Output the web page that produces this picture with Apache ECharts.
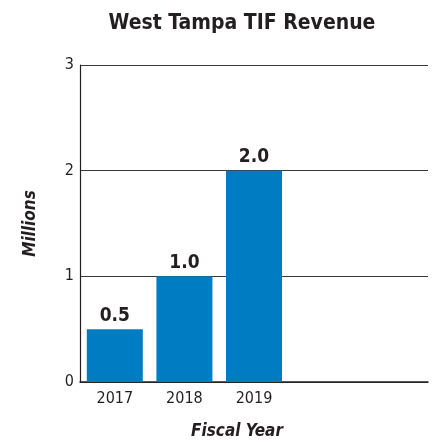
<!DOCTYPE html>
<html>
<head>
<meta charset="utf-8">
<script src="https://cdn.jsdelivr.net/npm/echarts@6/dist/echarts.min.js"></script>
<style>
  html, body { margin: 0; padding: 0; background: #fff; }
  #chart { width: 435px; height: 442px; }
</style>
</head>
<body>
<div id="chart"></div>
<script>
// Fiscal years shown on the axis; trailing slots are left empty
const categories = ['2017', '2018', '2019', '', ''];
// TIF revenue in millions of dollars
const revenue = [0.5, 1.0, 2.0, null, null];
const yTicks = [0, 1, 2, 3];

const FONT = '"DejaVu Sans Condensed", "Liberation Sans Narrow", "Arial Narrow", sans-serif';
const INK = '#231f20';

const chart = echarts.init(document.getElementById('chart'), null, { renderer: 'canvas' });

chart.setOption({
  animation: false,
  backgroundColor: '#ffffff',
  title: {
    text: 'West Tampa TIF Revenue',
    left: 237,
    top: 8,
    textAlign: 'center',
    textStyle: { fontFamily: FONT, fontWeight: 'bold', fontSize: 21, color: INK }
  },
  graphic: [{
    type: 'text',
    style: {
      text: 'Fiscal Year',
      x: 237, y: 432,
      align: 'center', verticalAlign: 'middle',
      font: 'italic bold 17px ' + FONT,
      fill: INK
    }
  }],
  grid: { left: 80, right: 7, top: 65, bottom: 60, containLabel: false },
  xAxis: {
    type: 'category',
    data: categories,
    axisLine: { show: true, lineStyle: { color: INK, width: 1.5 } },
    axisTick: { show: false },
    axisLabel: { color: INK, fontFamily: FONT, fontSize: 16, margin: 9 },
    splitLine: { show: false }
  },
  yAxis: {
    type: 'value',
    min: yTicks[0],
    max: yTicks[yTicks.length - 1],
    interval: 1,
    name: 'Millions',
    nameLocation: 'middle',
    nameRotate: 90,
    nameGap: 41,
    nameTextStyle: { fontFamily: FONT, fontWeight: 'bold', fontStyle: 'italic', fontSize: 17, color: INK },
    axisLine: { show: true, lineStyle: { color: INK, width: 1.2 } },
    axisTick: { show: false },
    axisLabel: { color: INK, fontFamily: FONT, fontSize: 16, margin: 6 },
    splitLine: { show: true, lineStyle: { color: '#3a3a3a', width: 1 } }
  },
  series: [{
    type: 'bar',
    data: revenue,
    barWidth: 56,
    itemStyle: { color: '#007cc2' },
    label: {
      show: true,
      position: 'top',
      distance: 4,
      formatter: p => p.value == null ? '' : p.value.toFixed(1),
      fontFamily: FONT,
      fontWeight: 'bold',
      fontSize: 19,
      color: INK
    }
  }]
});
</script>
</body>
</html>
